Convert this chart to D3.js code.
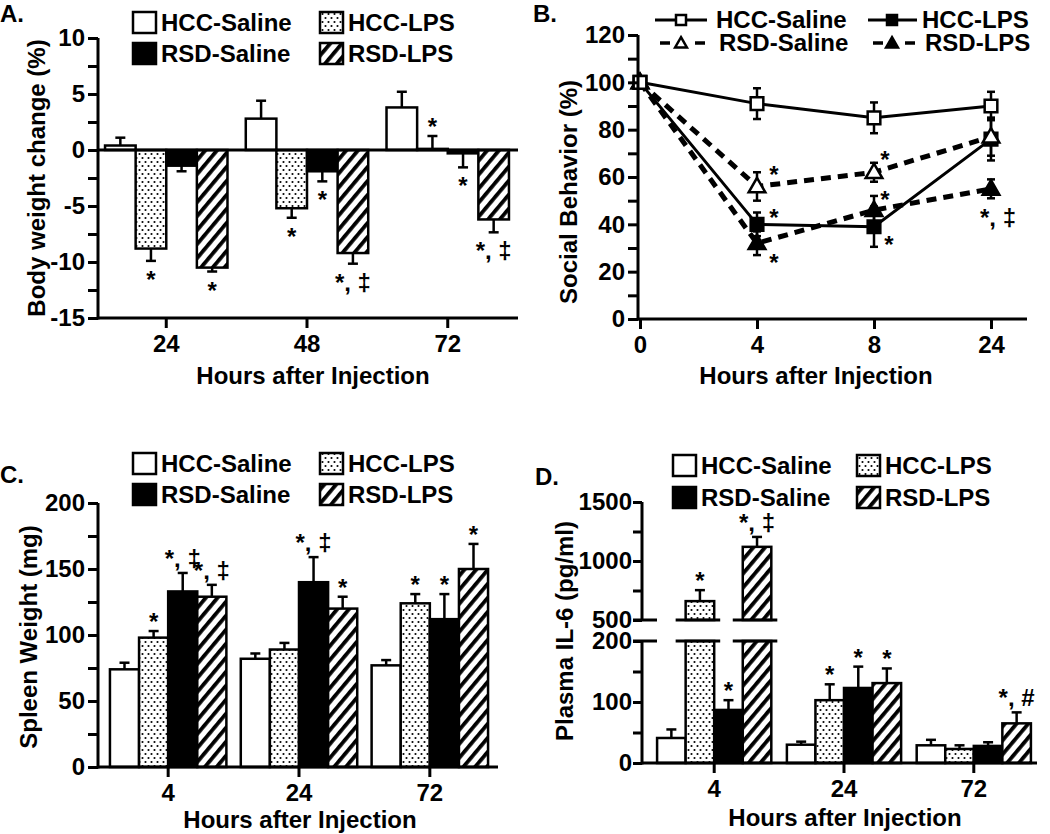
<!DOCTYPE html>
<html><head><meta charset="utf-8">
<script src="https://cdn.jsdelivr.net/npm/d3@7"></script>
<style>
body{margin:0;background:#fff}
text{font-family:"Liberation Sans",Arial,Helvetica,sans-serif;font-weight:bold;fill:#000}
</style></head><body>
<svg id="c" width="1050" height="834" style="background:#fff"></svg>
<script>
// ---------------- DATA ----------------
const seriesNames = ["HCC-Saline","HCC-LPS","RSD-Saline","RSD-LPS"];

// Panel A: body weight change (%)
const aHours = ["24","48","72"];
const aTickValues = [-15,-10,-5,0,5,10];
const aHccSaline = [0.4, 2.8, 3.8];   const aHccSalineErr = [0.7, 1.6, 1.4];
const aHccLps    = [-8.8, -5.2, 0.1]; const aHccLpsErr    = [1.1, 0.85, 1.15];
const aRsdSaline = [-1.4, -1.9, -0.3];const aRsdSalineErr = [0.5, 0.9, 1.25];
const aRsdLps    = [-10.5, -9.2, -6.2];const aRsdLpsErr   = [0.35, 0.95, 1.15];
const aNotes = [["HCC-LPS","24","*"],["RSD-LPS","24","*"],["HCC-LPS","48","*"],["RSD-Saline","48","*"],
                ["RSD-LPS","48","*, ‡"],["HCC-LPS","72","*"],["RSD-Saline","72","*"],["RSD-LPS","72","*, ‡"]];

// Panel B: social behavior (%)
const bHours = ["0","4","8","24"];
const bTickValues = [0,20,40,60,80,100,120];
const bHccSaline = [100, 91, 85, 90]; const bHccSalineErr = [0, 6.5, 6.5, 6];
const bHccLps    = [100, 40, 39, 76]; const bHccLpsErr    = [0, 5, 8.5, 9];
const bRsdSaline = [100, 56, 62, 77]; const bRsdSalineErr = [0, 6, 4, 8];
const bRsdLps    = [100, 32, 46, 55]; const bRsdLpsErr    = [0, 5, 6, 4];
const bNotes = [["RSD-Saline","4","*"],["HCC-LPS","4","*"],["RSD-LPS","4","*"],["RSD-Saline","8","*"],
                ["RSD-LPS","8","*"],["HCC-LPS","8","*"],["RSD-LPS","24","*, ‡"]];

// Panel C: spleen weight (mg)
const cHours = ["4","24","72"];
const cTickValues = [0,50,100,150,200];
const cHccSaline = [74, 82, 77];   const cHccSalineErr = [5, 4, 4];
const cHccLps    = [98, 89, 124];  const cHccLpsErr    = [5, 5, 7];
const cRsdSaline = [133, 140, 112];const cRsdSalineErr = [14, 19, 19];
const cRsdLps    = [129, 120, 150];const cRsdLpsErr    = [9, 9, 19];
const cNotes = [["HCC-LPS","4","*"],["RSD-Saline","4","*, ‡"],["RSD-LPS","4","*, ‡"],["RSD-Saline","24","*, ‡"],
                ["RSD-LPS","24","*"],["HCC-LPS","72","*"],["RSD-Saline","72","*"],["RSD-LPS","72","*"]];

// Panel D: plasma IL-6 (pg/ml), broken axis
const dHours = ["4","24","72"];
const dLowTickValues = [0,100,200];
const dHighTickValues = [500,1000,1500];
const dHccSaline = [41, 30, 29];   const dHccSalineErr = [14, 5, 9];
const dHccLps    = [660, 103, 23]; const dHccLpsErr    = [93, 26, 6];
const dRsdSaline = [87, 123, 28];  const dRsdSalineErr = [16, 35, 6];
const dRsdLps    = [1120, 131, 65];const dRsdLpsErr    = [84, 24, 18];
const dNotes = [["HCC-LPS","4","*"],["RSD-Saline","4","*"],["RSD-LPS","4","*, ‡"],["HCC-LPS","24","*"],
                ["RSD-Saline","24","*"],["RSD-LPS","24","*"],["RSD-LPS","72","*, #"]];

// ---------------- DRAWING ----------------
const svg = d3.select("#c");
svg.append("rect").attr("width",1050).attr("height",834).attr("fill","#fff");
const defs = svg.append("defs");
const pd = defs.append("pattern").attr("id","dots").attr("width",6).attr("height",8).attr("patternUnits","userSpaceOnUse");
pd.append("rect").attr("width",6).attr("height",8).attr("fill","#fff");
pd.append("circle").attr("cx",1.5).attr("cy",2).attr("r",1.05).attr("fill","#000");
pd.append("circle").attr("cx",4.5).attr("cy",6).attr("r",1.05).attr("fill","#000");
const ph = defs.append("pattern").attr("id","hatch").attr("width",9).attr("height",9)
  .attr("patternUnits","userSpaceOnUse").attr("patternTransform","rotate(40)");
ph.append("rect").attr("width",9).attr("height",9).attr("fill","#fff");
ph.append("rect").attr("width",3.8).attr("height",9).attr("fill","#000");

const fills = {"HCC-Saline":"#fff","HCC-LPS":"url(#dots)","RSD-Saline":"#000","RSD-LPS":"url(#hatch)"};
const FS = 24, LW = 3;

function line(g,x1,y1,x2,y2,w){g.append("line").attr("x1",x1).attr("y1",y1).attr("x2",x2).attr("y2",y2)
  .attr("stroke","#000").attr("stroke-width",w||LW);}
function txt(g,x,y,s,anchor){return g.append("text").attr("x",x).attr("y",y).attr("font-size",FS)
  .attr("text-anchor",anchor||"start").text(s);}

function yAxis(g, y, x, ticks, labels, size, pad){
  const ax = d3.axisLeft(y).tickValues(ticks).tickSize(size||10).tickSizeOuter(0).tickPadding(pad==null?3:pad)
    .tickFormat(d => labels.includes(d) ? d : "");
  const a = g.append("g").attr("transform",`translate(${x},0)`).call(ax);
  a.select(".domain").remove();
  a.selectAll("line").attr("stroke","#000").attr("stroke-width",LW);
  a.selectAll("text").attr("font-size",FS).attr("font-family",null).attr("fill","#000");
}
function xAxis(g, x, y){
  const ax = d3.axisBottom(x).tickSize(10).tickSizeOuter(0).tickPadding(7);
  const a = g.append("g").attr("transform",`translate(0,${y})`).call(ax);
  a.select(".domain").remove();
  a.selectAll("line").attr("stroke","#000").attr("stroke-width",LW);
  a.selectAll("text").attr("font-size",FS).attr("font-family",null).attr("fill","#000");
}
function barLegend(g, cols, rows){
  seriesNames.forEach((s,i)=>{
    const cx = cols[i%2], ry = rows[Math.floor(i/2)];
    g.append("rect").attr("x",cx).attr("y",ry).attr("width",23).attr("height",21)
      .attr("fill",fills[s]).attr("stroke","#000").attr("stroke-width",2.5);
    txt(g, cx+28, ry+18.5, s);
  });
}
function errBar(g, cx, y0, y1){
  line(g,cx,y0,cx,y1,2.5);
  line(g,cx-5,y1,cx+5,y1,2.5);
}
function barNote(g, cx, yEnd, below, label){
  if(below) txt(g, cx, yEnd+27, label, "middle");
  else txt(g, cx, yEnd - (label.length>1 ? 6 : 1), label, "middle");
}

// ===== Panel A =====
{
  const g = svg.append("g");
  const vals = [aHccSaline,aHccLps,aRsdSaline,aRsdLps];
  const errs = [aHccSalineErr,aHccLpsErr,aRsdSalineErr,aRsdLpsErr];
  const x = d3.scaleBand().domain(aHours).range([98,516]).paddingInner(0.13).paddingOuter(0.05);
  const xs = d3.scaleBand().domain(seriesNames).range([0,x.bandwidth()]);
  const y = d3.scaleLinear().domain([-15,10]).range([318,38]);
  const ends = {};
  aHours.forEach((h,i)=>seriesNames.forEach((s,j)=>{
    const v = vals[j][i], e = errs[j][i], bx = x(h)+xs(s), bw = xs.bandwidth();
    const ye = y(v>=0 ? v+e : v-e);
    errBar(g, bx+bw/2, y(v), ye);
    g.append("rect").attr("x",bx).attr("width",bw).attr("y",y(Math.max(0,v)))
      .attr("height",Math.abs(y(v)-y(0))).attr("fill",fills[s]).attr("stroke","#000").attr("stroke-width",2.5);
    ends[s+h] = {cx:bx+bw/2, ye, below:v<0};
  }));
  line(g,98,y(0),518,y(0));
  line(g,98,y(-15),518,y(-15));
  line(g,98,y(10),98,y(-15)+1.5);
  yAxis(g,y,98,d3.range(-15,10.1,2.5),aTickValues);
  xAxis(g,x,318);
  aNotes.forEach(([s,h,l])=>{const e=ends[s+h]; barNote(g,e.cx,e.ye,e.below,l);});
  barLegend(g,[133,320],[12,43]);
  txt(g,0,22,"A.");
  txt(g,313,384,"Hours after Injection","middle");
  g.append("text").attr("transform","translate(45,178) rotate(-90)").attr("text-anchor","middle")
    .attr("font-size",FS).text("Body weight change (%)");
}

// ===== Panel B =====
{
  const g = svg.append("g");
  const vals = [bHccSaline,bHccLps,bRsdSaline,bRsdLps];
  const errs = [bHccSalineErr,bHccLpsErr,bRsdSalineErr,bRsdLpsErr];
  const x = d3.scalePoint().domain(bHours).range([640,991]);
  const y = d3.scaleLinear().domain([0,120]).range([319,35]);
  const dashed = [false,false,true,true];
  const sym = [d3.symbolSquare,d3.symbolSquare,d3.symbolTriangle,d3.symbolTriangle];
  const filled = [false,true,false,true];
  const order = [1,3,2,0];
  order.forEach(j=>{
    const path = d3.line().x((d,i)=>x(bHours[i])).y(d=>y(d));
    g.append("path").attr("d",path(vals[j])).attr("fill","none").attr("stroke","#000")
      .attr("stroke-width",dashed[j]?5:3).attr("stroke-dasharray",dashed[j]?"10,7":null);
  });
  order.forEach(j=>{
    bHours.forEach((h,i)=>{
      const e = errs[j][i]; if(!e) return;
      const cx = x(h);
      line(g,cx,y(vals[j][i]-e),cx,y(vals[j][i]+e),2.5);
      line(g,cx-4,y(vals[j][i]-e),cx+4,y(vals[j][i]-e),2.5);
      line(g,cx-4,y(vals[j][i]+e),cx+4,y(vals[j][i]+e),2.5);
    });
  });
  order.forEach(j=>{
    bHours.forEach((h,i)=>{
      const tri = sym[j]===d3.symbolTriangle;
      g.append("path").attr("d",d3.symbol(sym[j], tri?120:160)())
        .attr("transform",`translate(${x(h)},${y(vals[j][i])+(tri?1:0)})`)
        .attr("fill",filled[j]?"#000":"#fff").attr("stroke","#000").attr("stroke-width",2.5);
    });
  });
  line(g,638,y(120),638,y(0)+1.5);
  line(g,638,y(0),1027,y(0));
  yAxis(g,y,638,d3.range(0,120.1,10),bTickValues);
  xAxis(g,x,319);
  // annotation offsets relative to each point
  const off = {"RSD-Saline4":[17,-3],"HCC-LPS4":[17,2],"RSD-LPS4":[17,28],"RSD-Saline8":[11,-4],
               "RSD-LPS8":[11,-2],"HCC-LPS8":[15,26],"RSD-LPS24":[7,37]};
  bNotes.forEach(([s,h,l])=>{
    const j = seriesNames.indexOf(s), o = off[s+h];
    txt(g, x(h)+o[0], y(vals[j][bHours.indexOf(h)])+o[1], l, "middle");
  });
  // legend
  const cols = [[655,707,681,716],[868,917,892,922]], rows=[20,43];
  [0,1,2,3].forEach(j=>{
    const c = cols[j%2], ry = rows[Math.floor(j/2)];
    if(!dashed[j]) line(g,c[0],ry,c[1],ry,3);
    else { line(g,c[0]+5,ry,c[0]+15,ry,3.5); line(g,c[1]-12,ry,c[1]-2,ry,3.5); }
    const tri = sym[j]===d3.symbolTriangle;
    g.append("path").attr("d",d3.symbol(sym[j], tri?60:100)()).attr("transform",`translate(${c[2]},${ry+(tri?1:0)})`)
      .attr("fill",filled[j]?"#000":"#fff").attr("stroke","#000").attr("stroke-width",2.5);
    txt(g,c[3]+(dashed[j]?3:0),ry+8,seriesNames[j]);
  });
  txt(g,533,22,"B.");
  txt(g,816,384,"Hours after Injection","middle");
  g.append("text").attr("transform","translate(577,192) rotate(-90)").attr("text-anchor","middle")
    .attr("font-size",FS).text("Social Behavior (%)");
}

// ===== Panel C =====
{
  const g = svg.append("g");
  const vals = [cHccSaline,cHccLps,cRsdSaline,cRsdLps];
  const errs = [cHccSalineErr,cHccLpsErr,cRsdSalineErr,cRsdLpsErr];
  const x = d3.scaleBand().domain(cHours).range([100,498]).paddingInner(0.11).paddingOuter(0.076);
  const xs = d3.scaleBand().domain(seriesNames).range([0,x.bandwidth()]);
  const y = d3.scaleLinear().domain([0,200]).range([767,503]);
  const ends = {};
  cHours.forEach((h,i)=>seriesNames.forEach((s,j)=>{
    const v = vals[j][i], e = errs[j][i], bx = x(h)+xs(s), bw = xs.bandwidth();
    errBar(g,bx+bw/2,y(v),y(v+e));
    g.append("rect").attr("x",bx).attr("width",bw).attr("y",y(v)).attr("height",y(0)-y(v))
      .attr("fill",fills[s]).attr("stroke","#000").attr("stroke-width",2.5);
    ends[s+h] = {cx:bx+bw/2, ye:y(v+e)};
  }));
  line(g,98,y(200),98,y(0)+1.5);
  line(g,98,y(0),498,y(0));
  yAxis(g,y,98,d3.range(0,200.1,25),cTickValues);
  xAxis(g,x,767);
  cNotes.forEach(([s,h,l])=>{const e=ends[s+h]; barNote(g,e.cx,e.ye,false,l);});
  barLegend(g,[133,320],[453,484]);
  txt(g,0,483,"C.");
  txt(g,300,828,"Hours after Injection","middle");
  g.append("text").attr("transform","translate(37,637) rotate(-90)").attr("text-anchor","middle")
    .attr("font-size",FS).text("Spleen Weight (mg)");
}

// ===== Panel D =====
{
  const g = svg.append("g");
  const vals = [dHccSaline,dHccLps,dRsdSaline,dRsdLps];
  const errs = [dHccSalineErr,dHccLpsErr,dRsdSalineErr,dRsdLpsErr];
  const x = d3.scaleBand().domain(dHours).range([648,1040]).paddingInner(0.12).paddingOuter(0.07);
  const xs = d3.scaleBand().domain(seriesNames).range([0,x.bandwidth()]);
  const yLo = d3.scaleLinear().domain([0,200]).range([763,641]);
  const yHi = d3.scaleLinear().domain([500,1500]).range([620,502]);
  const yv = v => v<=200 ? yLo(v) : yHi(v);
  const ends = {};
  dHours.forEach((h,i)=>seriesNames.forEach((s,j)=>{
    const v = vals[j][i], e = errs[j][i], bx = x(h)+xs(s), bw = xs.bandwidth();
    errBar(g,bx+bw/2,yv(v),yv(v+e));
    if(v<=200){
      g.append("rect").attr("x",bx).attr("width",bw).attr("y",yLo(v)).attr("height",yLo(0)-yLo(v))
        .attr("fill",fills[s]).attr("stroke","#000").attr("stroke-width",2.5);
    } else {
      g.append("rect").attr("x",bx).attr("width",bw).attr("y",yLo(200)).attr("height",yLo(0)-yLo(200))
        .attr("fill",fills[s]).attr("stroke","#000").attr("stroke-width",2.5);
      g.append("rect").attr("x",bx).attr("width",bw).attr("y",yHi(v)).attr("height",yHi(500)-yHi(v))
        .attr("fill",fills[s]).attr("stroke","#000").attr("stroke-width",2.5);
      line(g,bx-10,yLo(200),bx+bw+6,yLo(200));
      line(g,bx-10,yHi(500),bx+bw+6,yHi(500));
    }
    ends[s+h] = {cx:bx+bw/2, ye:yv(v+e)};
  }));
  line(g,642,yHi(1500),642,yHi(500));
  line(g,642,yLo(200),642,yLo(0)+1.5);
  line(g,642,yLo(0),1037,yLo(0));
  line(g,633,yHi(500),657,yHi(500));
  line(g,633,yLo(200),657,yLo(200));
  yAxis(g,yLo,642,d3.range(0,200.1,50),dLowTickValues,9,1);
  yAxis(g,yHi,642,d3.range(500,1500.1,250),dHighTickValues,9,1);
  xAxis(g,x,763);
  dNotes.forEach(([s,h,l])=>{const e=ends[s+h]; barNote(g,e.cx,e.ye,false,l);});
  barLegend(g,[673,857],[455,487]);
  txt(g,535,485,"D.");
  txt(g,845,826,"Hours after Injection","middle");
  g.append("text").attr("transform","translate(573,631) rotate(-90)").attr("text-anchor","middle")
    .attr("font-size",FS).text("Plasma IL-6 (pg/ml)");
}
</script>
</body></html>
